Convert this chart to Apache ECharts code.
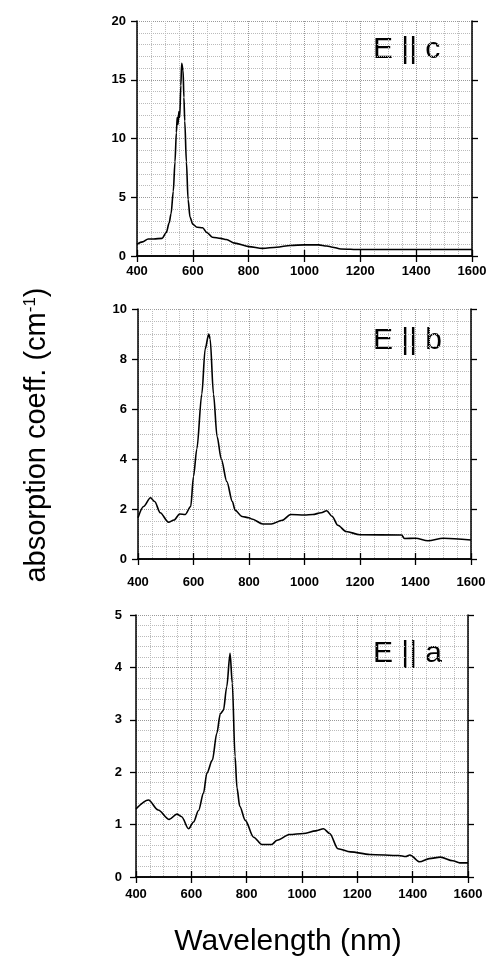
<!DOCTYPE html>
<html>
<head>
<meta charset="utf-8">
<script src="https://cdn.jsdelivr.net/npm/echarts@6/dist/echarts.min.js"></script>
<style>
html,body{margin:0;padding:0;background:#fff;}
#main{width:490px;height:963px;}
</style>
</head>
<body>
<div id="main"></div>
<script>
// wavelength axis (nm): min, max, step
var xRange = [400, 1600, 200];

// E || c
var wlC  = [400,420,440,460,490,505,515,522,530,536,541,544,547,550,553,557,560,565,568,571,577,583,590,600,615,635,650,670,700,720,750,800,850,900,950,1000,1050,1080,1100,1130,1200,1300,1400,1500,1600];
var absC = [1.0,1.2,1.45,1.45,1.5,2.0,2.8,3.6,5.5,8.0,10.5,11.8,11.2,12.3,11.8,14.5,16.4,15.8,13.5,11.5,8.0,4.8,3.3,2.7,2.45,2.4,2.0,1.6,1.5,1.4,1.1,0.8,0.65,0.75,0.9,0.95,0.95,0.85,0.75,0.6,0.55,0.55,0.55,0.55,0.55];
var yRangeC = [0, 20, 5];

// E || b
var wlB  = [400,420,445,460,480,510,530,550,570,590,600,612,630,642,655,660,672,685,700,720,740,750,775,800,810,850,880,920,950,1000,1030,1060,1080,1100,1120,1150,1200,1350,1360,1400,1445,1500,1600];
var absB = [1.65,2.1,2.45,2.3,1.85,1.47,1.56,1.8,1.78,2.1,3.3,4.4,6.6,8.4,9.0,8.8,6.6,4.9,4.0,3.1,2.3,1.95,1.7,1.65,1.6,1.4,1.4,1.55,1.78,1.76,1.78,1.85,1.93,1.7,1.35,1.1,0.97,0.96,0.82,0.83,0.73,0.83,0.76];
var yRangeB = [0, 10, 2];

// E || a
var wlA  = [400,445,480,520,548,565,590,608,626,644,656,676,692,705,716,728,740,748,758,765,775,795,825,855,890,910,955,1005,1050,1078,1100,1130,1175,1245,1350,1375,1390,1425,1460,1500,1545,1570,1600];
var absA = [1.3,1.47,1.28,1.1,1.2,1.15,0.92,1.05,1.27,1.6,1.98,2.23,2.74,3.12,3.18,3.63,4.27,3.7,2.3,1.7,1.35,1.08,0.76,0.62,0.62,0.7,0.81,0.83,0.88,0.92,0.83,0.54,0.48,0.43,0.41,0.39,0.42,0.29,0.35,0.38,0.31,0.27,0.27];
var yRangeA = [0, 5, 1];

var panelNames = ['E || c', 'E || b', 'E || a'];
var panelWl = [wlC, wlB, wlA];
var panelAbs = [absC, absB, absA];
var panelY = [yRangeC, yRangeB, yRangeA];

var xTitle = 'Wavelength (nm)';

var font = '"Liberation Sans", Arial, Helvetica, sans-serif';

var grids = [
    {left: 137, top: 21, width: 335, height: 235},
    {left: 138, top: 309, width: 333, height: 250},
    {left: 136, top: 615, width: 332, height: 262}
];
var xLabelMargin = [9, 17, 11];
var yLabelMargin = [11, 11, 14];
var yMinorSplit = [5, 4, 5];
var textY = [52, 343, 656];

var lineAx = {show: true, lineStyle: {color: '#000', width: 1.5}};
var tickAx = {show: true, inside: false, length: 6, lineStyle: {color: '#000', width: 1.3}};
var labelAx = {color: '#000', fontSize: 13, fontWeight: 'bold', fontFamily: font,
    formatter: function (v) { return String(v); }};

var xAxes = [], yAxes = [], series = [], graphics = [];

for (var i = 0; i < 3; i++) {
    xAxes.push({
        type: 'value', gridIndex: i, position: 'bottom',
        min: xRange[0], max: xRange[1], interval: xRange[2],
        axisLine: lineAx, axisTick: tickAx,
        axisLabel: Object.assign({margin: xLabelMargin[i]}, labelAx),
        splitLine: {show: true, lineStyle: {color: '#999', type: 'dotted', width: 1}},
        minorTick: {show: false, splitNumber: 4},
        minorSplitLine: {show: true, lineStyle: {color: '#bbb', type: 'dotted', width: 1}}
    });
    xAxes.push({
        type: 'value', gridIndex: i, position: 'top',
        min: xRange[0], max: xRange[1], interval: xRange[2],
        axisLine: lineAx, axisTick: tickAx,
        axisLabel: {show: false}, splitLine: {show: false}
    });
    yAxes.push({
        type: 'value', gridIndex: i, position: 'left',
        min: panelY[i][0], max: panelY[i][1], interval: panelY[i][2],
        axisLine: lineAx, axisTick: tickAx,
        axisLabel: Object.assign({margin: yLabelMargin[i]}, labelAx),
        splitLine: {show: true, lineStyle: {color: '#999', type: 'dotted', width: 1}},
        minorTick: {show: false, splitNumber: yMinorSplit[i]},
        minorSplitLine: {show: true, lineStyle: {color: '#bbb', type: 'dotted', width: 1}}
    });
    yAxes.push({
        type: 'value', gridIndex: i, position: 'right',
        min: panelY[i][0], max: panelY[i][1], interval: panelY[i][2],
        axisLine: lineAx, axisTick: tickAx,
        axisLabel: {show: false}, splitLine: {show: false}
    });
    series.push({
        type: 'line',
        xAxisIndex: i * 2, yAxisIndex: i * 2,
        data: panelWl[i].map(function (w, k) { return [w, panelAbs[i][k]]; }),
        showSymbol: false,
        smooth: 0.3,
        smoothMonotone: 'x',
        lineStyle: {color: '#000', width: 1.6},
        silent: true
    });
    graphics.push({
        type: 'text', left: 373, top: textY[i] - 17,
        style: {text: panelNames[i], fill: '#000', font: '30px ' + font}
    });
}

graphics.push({
    type: 'text', x: 37, y: 435, rotation: Math.PI / 2,
    style: {
        text: 'absorption coeff. (cm{sup|-1})',
        fill: '#000', font: '29px ' + font,
        align: 'center', verticalAlign: 'middle',
        rich: {sup: {fontSize: 17, fontFamily: font, verticalAlign: 'top', padding: [0, 0, 14, 0]}}
    }
});
graphics.push({
    type: 'text', x: 288, y: 942,
    style: {text: xTitle, fill: '#000', font: '30px ' + font, align: 'center', verticalAlign: 'middle'}
});

var dom = document.getElementById('main');
var myChart = echarts.init(dom, null, {renderer: 'canvas'});
var option = {
    backgroundColor: '#fff',
    animation: false,
    grid: grids,
    xAxis: xAxes,
    yAxis: yAxes,
    series: series,
    graphic: graphics
};
myChart.setOption(option);
</script>
</body>
</html>
